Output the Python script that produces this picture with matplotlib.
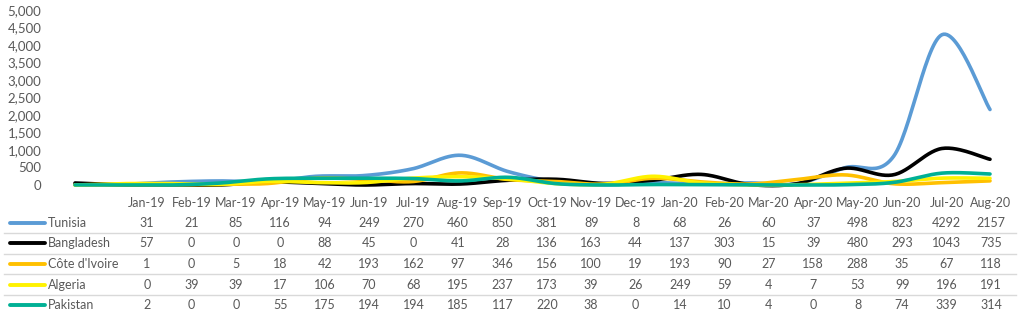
import matplotlib
matplotlib.use("Agg")
import matplotlib.pyplot as plt
import numpy as np

plt.rcParams['font.family'] = ['Lato', 'DejaVu Sans']

months = ['Jan-19', 'Feb-19', 'Mar-19', 'Apr-19', 'May-19', 'Jun-19', 'Jul-19',
          'Aug-19', 'Sep-19', 'Oct-19', 'Nov-19', 'Dec-19', 'Jan-20', 'Feb-20',
          'Mar-20', 'Apr-20', 'May-20', 'Jun-20', 'Jul-20', 'Aug-20']

countries = ['Tunisia', 'Bangladesh', "Côte d'Ivoire", 'Algeria', 'Pakistan']
colors = ['#5B9BD5', '#000000', '#FFC000', '#FFF200', '#00B095']

tunisia = [31, 21, 85, 116, 94, 249, 270, 460, 850, 381, 89, 8, 68, 26, 60, 37, 498, 823, 4292, 2157]
bangladesh = [57, 0, 0, 0, 88, 45, 0, 41, 28, 136, 163, 44, 137, 303, 15, 39, 480, 293, 1043, 735]
cote_divoire = [1, 0, 5, 18, 42, 193, 162, 97, 346, 156, 100, 19, 193, 90, 27, 158, 288, 35, 67, 118]
algeria = [0, 39, 39, 17, 106, 70, 68, 195, 237, 173, 39, 26, 249, 59, 4, 7, 53, 99, 196, 191]
pakistan = [2, 0, 0, 55, 175, 194, 194, 185, 117, 220, 38, 0, 14, 10, 4, 0, 8, 74, 339, 314]

series = [tunisia, bangladesh, cote_divoire, algeria, pakistan]
yticks = np.arange(0, 5001, 500)

W, H = 1024, 324
TXT = '#595959'
FS = 9


def smooth(y, steps=30):
    # Catmull-Rom style cubic Bezier through each point
    y = np.asarray(y, dtype=float)
    n = len(y)
    x = np.arange(n, dtype=float)
    xs, ys = [], []
    for i in range(n - 1):
        p0 = max(i - 1, 0)
        p3 = min(i + 2, n - 1)
        c1x = x[i] + (x[i + 1] - x[p0]) / 6
        c1y = y[i] + (y[i + 1] - y[p0]) / 6
        c2x = x[i + 1] - (x[p3] - x[i]) / 6
        c2y = y[i + 1] - (y[p3] - y[i]) / 6
        t = np.linspace(0, 1, steps)
        a, b, c, d = (1 - t) ** 3, 3 * (1 - t) ** 2 * t, 3 * (1 - t) * t ** 2, t ** 3
        xs.append(a * x[i] + b * c1x + c * c2x + d * x[i + 1])
        ys.append(a * y[i] + b * c1y + c * c2y + d * y[i + 1])
    return np.concatenate(xs), np.concatenate(ys)


fig = plt.figure(figsize=(W / 100, H / 100), dpi=100)

# chart area: first point at x=75px, last at x=990px, 0 at y=185px, 5000 at y=10px
left_px, right_px = 51, 1014
x0_px, x1_px = 75, 990
scale = (x1_px - x0_px) / (len(months) - 1)
ax = fig.add_axes([left_px / W, (H - 185) / H, (right_px - left_px) / W, 175 / H])
ax.set_xlim((left_px - x0_px) / scale, (right_px - x0_px) / scale)
ax.set_ylim(0, 5000)
for s, c in zip(series, colors):
    sx, sy = smooth(s)
    ax.plot(sx, sy, color=c, lw=2.6, clip_on=False, solid_capstyle='round')
ax.set_yticks(yticks)
ax.set_yticklabels([f'{v:,}' for v in yticks], color=TXT, fontsize=9.5)
ax.tick_params(axis='y', length=0, pad=7)
ax.set_xticks([])
for sp in ax.spines.values():
    sp.set_visible(False)
ax.patch.set_alpha(0)


# data table underneath
def fx(px):
    return px / W


def fy(py):
    return 1 - py / H


col0, col1 = 147, 991
col_x = np.linspace(col0, col1, len(months))
for xp, m in zip(col_x, months):
    fig.text(fx(xp), fy(203), m, ha='center', va='center', color=TXT, fontsize=FS)

row_y = [223, 243, 264, 285, 305]
for ry, name, s, c in zip(row_y, countries, series, colors):
    fig.add_artist(plt.Line2D([fx(10), fx(45)], [fy(ry), fy(ry)], color=c, lw=2.8,
                              solid_capstyle='round'))
    fig.text(fx(48), fy(ry), name, ha='left', va='center', color=TXT, fontsize=FS)
    for xp, v in zip(col_x, s):
        fig.text(fx(xp), fy(ry), str(v), ha='center', va='center', color=TXT, fontsize=FS)

for ly in [232.5, 253.5, 274, 294.5]:
    fig.add_artist(plt.Line2D([fx(4), fx(1016)], [fy(ly), fy(ly)], color='#D9D9D9', lw=1))

fig.savefig('out.png', dpi=100)
